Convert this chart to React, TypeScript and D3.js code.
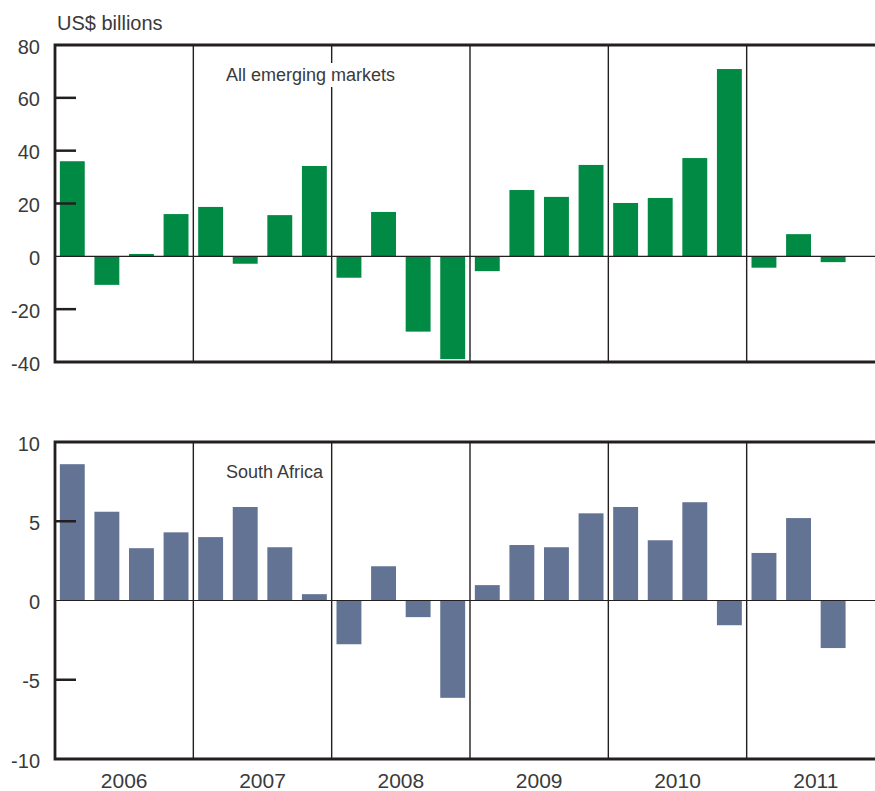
import React, { useEffect, useRef } from "react";
import * as d3 from "d3";

const years = ["2006", "2007", "2008", "2009", "2010", "2011"];
const quartersPerYear = 4;

const emergingMarkets = [
  36, -10.8, 0.9, 16,
  18.7, -2.8, 15.6, 34.2,
  -8.1, 16.8, -28.5, -38.9,
  -5.6, 25.1, 22.5, 34.6,
  20.2, 22.1, 37.2, 70.9,
  -4.3, 8.4, -2.2,
];

const southAfrica = [
  8.6, 5.6, 3.3, 4.3,
  4.0, 5.9, 3.36, 0.4,
  -2.76, 2.16, -1.05, -6.14,
  0.97, 3.5, 3.36, 5.5,
  5.9, 3.8, 6.2, -1.56,
  3.0, 5.2, -3.0,
];

const topTicks = [80, 60, 40, 20, 0, -20, -40];
const bottomTicks = [10, 5, 0, -5, -10];

const W = 875;
const H = 791;
const FONT = "'Liberation Sans', Arial, Helvetica, sans-serif";
const TEXT = "#3a3a3a";
const DARK = "#231f20";

export default function App() {
  const ref = useRef<SVGSVGElement | null>(null);

  useEffect(() => {
    const svg = d3.select(ref.current);
    svg.selectAll("*").remove();

    const left = 55;
    const right = 885;
    const nSlots = years.length * quartersPerYear;

    const x = d3
      .scaleBand<number>()
      .domain(d3.range(nSlots))
      .range([left, right])
      .paddingInner(0.28)
      .paddingOuter(0.14);
    const yearX = d3.scaleLinear().domain([0, years.length]).range([left, right]);

    const panels = [
      {
        data: emergingMarkets,
        ticks: topTicks,
        domain: [-40, 80],
        top: 45,
        bottom: 362,
        color: "#008a43",
        label: "All emerging markets",
      },
      {
        data: southAfrica,
        ticks: bottomTicks,
        domain: [-10, 10],
        top: 442,
        bottom: 759,
        color: "#627394",
        label: "South Africa",
      },
    ];

    panels.forEach((p) => {
      const y = d3.scaleLinear().domain(p.domain).range([p.bottom, p.top]);
      const g = svg.append("g");

      g.selectAll("rect.bar")
        .data(p.data)
        .join("rect")
        .attr("class", "bar")
        .attr("x", (_, i) => x(i)!)
        .attr("width", x.bandwidth())
        .attr("y", (d) => y(Math.max(0, d)))
        .attr("height", (d) => Math.abs(y(d) - y(0)))
        .attr("fill", p.color);

      g.append("line")
        .attr("x1", left)
        .attr("x2", W)
        .attr("y1", y(0))
        .attr("y2", y(0))
        .attr("stroke", DARK)
        .attr("stroke-width", 1.1);

      g.selectAll("line.sep")
        .data(d3.range(1, years.length))
        .join("line")
        .attr("class", "sep")
        .attr("x1", (k) => yearX(k))
        .attr("x2", (k) => yearX(k))
        .attr("y1", p.top)
        .attr("y2", p.bottom)
        .attr("stroke", DARK)
        .attr("stroke-width", 1.4);

      g.selectAll("line.tick")
        .data(p.ticks.filter((t) => t !== p.domain[0] && t !== p.domain[1] && t !== 0))
        .join("line")
        .attr("class", "tick")
        .attr("x1", left)
        .attr("x2", left + 21)
        .attr("y1", (t) => y(t))
        .attr("y2", (t) => y(t))
        .attr("stroke", DARK)
        .attr("stroke-width", 2.5);

      g.append("path")
        .attr("d", `M${W},${p.top}H${left}V${p.bottom}H${W}`)
        .attr("fill", "none")
        .attr("stroke", DARK)
        .attr("stroke-width", 2.8);

      g.selectAll("text.tl")
        .data(p.ticks)
        .join("text")
        .attr("class", "tl")
        .attr("x", 40)
        .attr("y", (t) => y(t) + 8.5)
        .attr("text-anchor", "end")
        .attr("font-family", FONT)
        .attr("font-size", 20)
        .attr("fill", TEXT)
        .text((t) => String(t));

      const lbl = g
        .append("text")
        .attr("x", 226)
        .attr("y", p.top + 36)
        .attr("font-family", FONT)
        .attr("font-size", 18)
        .attr("fill", TEXT)
        .text(p.label);
      const bb = (lbl.node() as SVGTextElement).getBBox();
      g.insert("rect", () => lbl.node() as any)
        .attr("x", bb.x - 2)
        .attr("y", bb.y - 2)
        .attr("width", bb.width + 4)
        .attr("height", bb.height + 4)
        .attr("fill", "#ffffff");
    });

    svg
      .append("text")
      .attr("x", 57)
      .attr("y", 30)
      .attr("font-family", FONT)
      .attr("font-size", 20)
      .attr("fill", TEXT)
      .text("US$ billions");

    svg
      .selectAll("text.yr")
      .data(years)
      .join("text")
      .attr("class", "yr")
      .attr("x", (_, i) => (yearX(i) + yearX(i + 1)) / 2)
      .attr("y", 788)
      .attr("text-anchor", "middle")
      .attr("font-family", FONT)
      .attr("font-size", 21)
      .attr("fill", TEXT)
      .text((d) => d);
  }, []);

  return (
    <svg
      ref={ref}
      width={W}
      height={H}
      style={{ position: "absolute", left: 0, top: 0, background: "#fff" }}
    />
  );
}
